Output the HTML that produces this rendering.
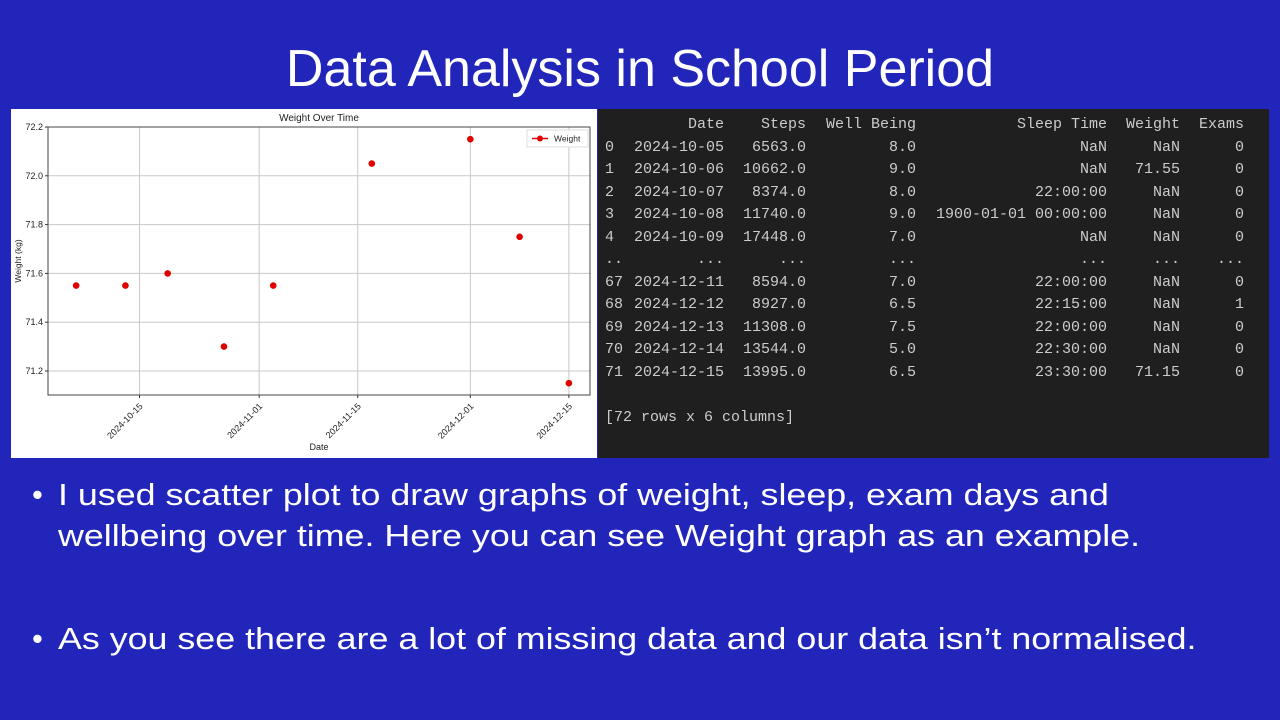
<!DOCTYPE html>
<html><head><meta charset="utf-8">
<style>
body{margin:0;width:1280px;height:720px;overflow:hidden;background:#2125b9;font-family:"Liberation Sans",sans-serif;position:relative}
.title{position:absolute;left:0;width:1280px;top:39px;text-align:center;color:#fff;font-size:52px;line-height:60px}
.chartbox{position:absolute;left:11px;top:109px;width:586px;height:349px;background:#fff}
.term{position:absolute;left:598px;top:109px;width:671px;height:349px;background:#1f1f1f;font-family:"Liberation Mono",monospace;font-size:15px;color:#cccccc}
.term span{position:absolute;white-space:pre;line-height:18px}
.bul{position:absolute;left:32px;color:#fff;font-size:31px;line-height:41px;white-space:nowrap}
.bul .dot{position:absolute;left:0}
.bul .t{position:absolute;left:26px;transform:scaleX(1.155);transform-origin:0 0}
</style></head><body>
<div class="title">Data Analysis in School Period</div>
<div class="chartbox">
<svg id="chart" width="586" height="349" xmlns="http://www.w3.org/2000/svg" font-family="Liberation Sans, sans-serif"></svg>
</div>
<div class="term" id="term"></div>
<div class="bul" style="top:474px"><span class="dot">•</span><span class="t">I used scatter plot to draw graphs of weight, sleep, exam days and<br>wellbeing over time. Here you can see Weight graph as an example.</span></div>
<div class="bul" style="top:618px"><span class="dot">•</span><span class="t">As you see there are a lot of missing data and our data isn’t normalised.</span></div>
<script>
const dates=["2024-10-06","2024-10-13","2024-10-19","2024-10-27","2024-11-03","2024-11-17","2024-12-01","2024-12-08","2024-12-15"];
const weights=[71.55,71.55,71.6,71.3,71.55,72.05,72.15,71.75,71.15];
const xTicks=["2024-10-15","2024-11-01","2024-11-15","2024-12-01","2024-12-15"];
const yTicks=[71.2,71.4,71.6,71.8,72.0,72.2];
const NS="http://www.w3.org/2000/svg";
const svg=document.getElementById('chart');
const L=37,R=579,T=18,B=286;
const d0=Date.parse("2024-10-02"),d1=Date.parse("2024-12-18");
const xs=d=>L+(Date.parse(d)-d0)/(d1-d0)*(R-L);
const y0=71.1016,y1=72.2;
const ys=v=>B-(v-y0)/(y1-y0)*(B-T);
function el(tag,attrs,txt){const e=document.createElementNS(NS,tag);for(const k in attrs)e.setAttribute(k,attrs[k]);if(txt!==undefined)e.textContent=txt;svg.appendChild(e);return e;}
xTicks.forEach(t=>{const x=xs(t);
 const g=el('line',{x1:x,x2:x,y1:T,y2:B,stroke:'#c8c8c8','stroke-width':1});
 
 el('line',{x1:x,x2:x,y1:B,y2:B+3,stroke:'#333'});
 const lb=el('text',{x:x,y:B+8,'font-size':9,fill:'#222','text-anchor':'end',transform:`rotate(-45 ${x} ${B+8})`,dy:'0.6em'},t);
 
});
yTicks.forEach(v=>{const y=ys(v);
 const g=el('line',{x1:L,x2:R,y1:y,y2:y,stroke:'#c8c8c8','stroke-width':1});
 
 el('line',{x1:L-3,x2:L,y1:y,y2:y,stroke:'#333'});
 const lb=el('text',{x:L-5,y:y+3,'font-size':9,fill:'#222','text-anchor':'end'},v.toFixed(1));
 
});
const fr=el('rect',{x:L,y:T,width:R-L,height:B-T,fill:'none',stroke:'#444','stroke-width':1});

dates.forEach((d,i)=>{const c=el('circle',{cx:xs(d),cy:ys(weights[i]),r:3.3,fill:'#e00000'});
 });
const tt=el('text',{x:(L+R)/2,y:12,'font-size':10,fill:'#222','text-anchor':'middle'},'Weight Over Time');

const xt=el('text',{x:(L+R)/2,y:341,'font-size':9,fill:'#222','text-anchor':'middle'},'Date');

const yt=el('text',{x:10,y:(T+B)/2,'font-size':8.5,fill:'#222','text-anchor':'middle',transform:`rotate(-90 10 ${(T+B)/2})`},'Weight (kg)');

const lg=el('rect',{x:516,y:21,width:61,height:17,fill:'#fff',stroke:'#ddd'});

el('line',{x1:521,x2:537,y1:29.5,y2:29.5,stroke:'#e00000','stroke-width':1.5});
el('circle',{cx:529,cy:29.5,r:3,fill:'#e00000'});
const le=el('text',{x:543,y:32.5,'font-size':8.5,fill:'#222'},'Weight');


const term=document.getElementById('term');
const cols=[126,208,318,509,582,646];
const rows=[
 ["","Date","Steps","Well Being","Sleep Time","Weight","Exams"],
 ["0","2024-10-05","6563.0","8.0","NaN","NaN","0"],
 ["1","2024-10-06","10662.0","9.0","NaN","71.55","0"],
 ["2","2024-10-07","8374.0","8.0","22:00:00","NaN","0"],
 ["3","2024-10-08","11740.0","9.0","1900-01-01 00:00:00","NaN","0"],
 ["4","2024-10-09","17448.0","7.0","NaN","NaN","0"],
 ["..","...","...","...","...","...","..."],
 ["67","2024-12-11","8594.0","7.0","22:00:00","NaN","0"],
 ["68","2024-12-12","8927.0","6.5","22:15:00","NaN","1"],
 ["69","2024-12-13","11308.0","7.5","22:00:00","NaN","0"],
 ["70","2024-12-14","13544.0","5.0","22:30:00","NaN","0"],
 ["71","2024-12-15","13995.0","6.5","23:30:00","71.15","0"]];
rows.forEach((r,i)=>{const top=7+i*22.5;
 r.forEach((c,j)=>{const s=document.createElement('span');s.textContent=c;s.style.top=top+'px';
  if(j===0){s.style.left='7px';}else{s.style.right=(671-cols[j-1])+'px';}
  term.appendChild(s);});});
const f=document.createElement('span');f.textContent='[72 rows x 6 columns]';f.style.left='7px';f.style.top='300px';


term.appendChild(f);
</script>
</body></html>
